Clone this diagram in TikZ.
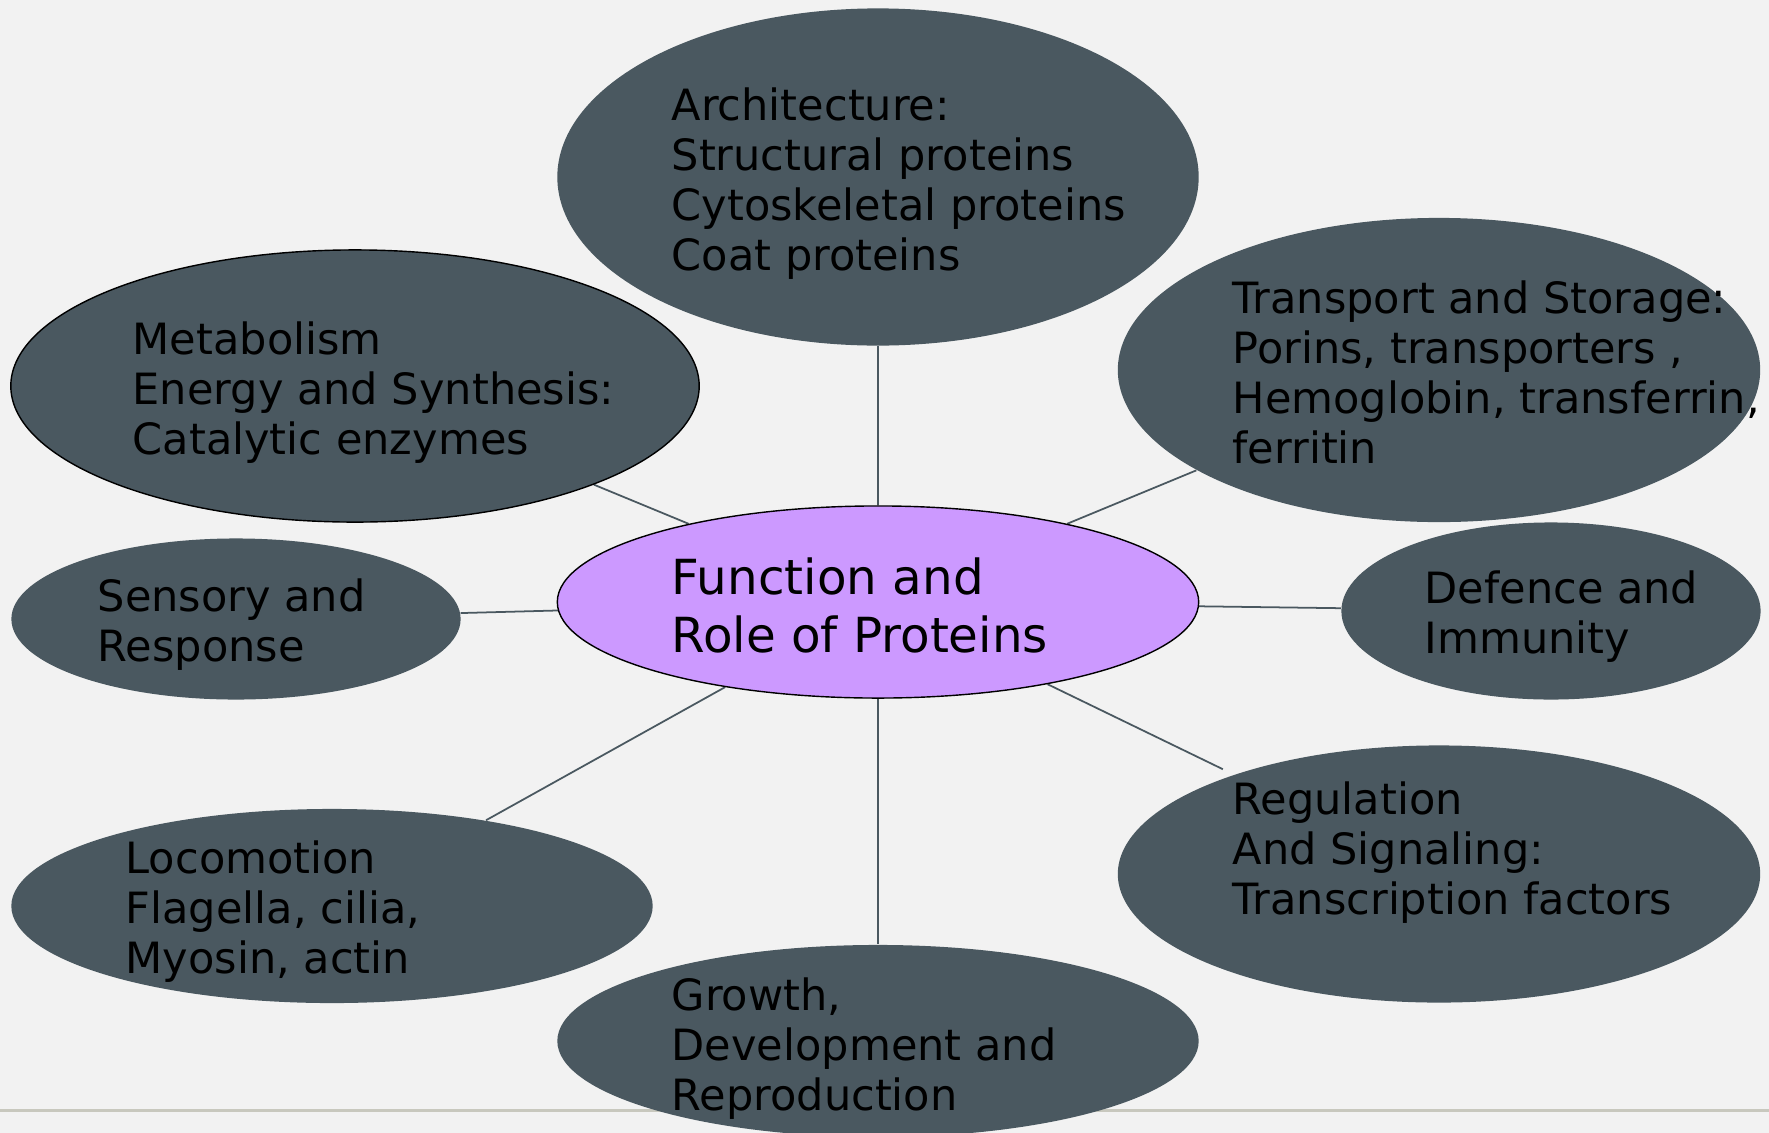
\documentclass[tikz,border=0pt]{standalone}
\usepackage{fontspec}
\setmainfont{DejaVu Sans}
\usetikzlibrary{shapes.geometric}
\pgfdeclarelayer{bg}
\pgfsetlayers{bg,main}
\definecolor{bgc}{HTML}{F2F2F2}
\definecolor{slate}{HTML}{4A5860}
\definecolor{lilac}{HTML}{CC99FF}
\definecolor{rule}{HTML}{C8C8BE}
\begin{document}
\begin{tikzpicture}[x=0.01cm,y=-0.01cm,
  bubble/.style={ellipse, fill=slate, inner sep=0pt, draw=none},
  bordered/.style={draw=black, line width=0.4pt},
  txt/.style={anchor=north west, inner sep=0pt, align=left, text=black,
    font=\fontsize{12.25}{14.2}\selectfont},
  bigtxt/.style={anchor=north west, inner sep=0pt, align=left, text=black,
    font=\fontsize{13.75}{16.5}\selectfont},
  link/.style={draw=slate, line width=0.5pt}]
\useasboundingbox (0,0) rectangle (1769,1133);
\begin{pgfonlayer}{bg}
\fill[bgc] (0,0) rectangle (1769,1133);
\fill[rule] (0,1108.5) rectangle (1769,1111.5);
\end{pgfonlayer}

\node[bubble, minimum width=6.41cm, minimum height=3.37cm] (arch) at (878,177) {};
\node[bubble, bordered, minimum width=6.88cm, minimum height=2.72cm] (metab) at (355,386) {};
\node[bubble, minimum width=6.42cm, minimum height=3.04cm] (trans) at (1439,370) {};
\node[bubble, minimum width=4.49cm, minimum height=1.61cm] (sens) at (236,619) {};
\node[ellipse, fill=lilac, bordered, inner sep=0pt, minimum width=6.41cm, minimum height=1.92cm] (center) at (878,602) {};
\node[bubble, minimum width=4.19cm, minimum height=1.77cm] (def) at (1551,611) {};
\node[bubble, minimum width=6.41cm, minimum height=1.94cm] (loco) at (332,906) {};
\node[bubble, minimum width=6.42cm, minimum height=2.57cm] (reg) at (1439,874) {};
\node[bubble, minimum width=6.41cm, minimum height=1.92cm] (grow) at (878,1041) {};

\begin{pgfonlayer}{bg}
\draw[link] (center) -- (arch);
\draw[link] (center) -- (metab);
\draw[link] (center) -- (trans);
\draw[link] (center) -- (sens);
\draw[link] (center) -- (def);
\draw[link] (center) -- (loco);
\draw[link, shorten >=0.12cm] (center) -- (reg);
\draw[link] (center) -- (grow);
\end{pgfonlayer}

\node[txt] (tarch) at (671,87) {Architecture:\\Structural proteins\\Cytoskeletal proteins\\Coat proteins};
\node[txt] (tmetab) at (132,321) {Metabolism\\Energy and Synthesis:\\Catalytic enzymes};
\node[txt] (ttrans) at (1232,280) {Transport and Storage:\\Porins, transporters ,\\Hemoglobin, transferrin,\\ferritin};
\node[txt] (tsens) at (97,578) {Sensory and\\Response};
\node[bigtxt] (tcenter) at (671,557) {Function and\\Role of Proteins};
\node[txt] (tdef) at (1424,570) {Defence and\\Immunity};
\node[txt] (tloco) at (125,840) {Locomotion\\Flagella, cilia,\\Myosin, actin};
\node[txt] (treg) at (1232,781) {Regulation\\And Signaling:\\Transcription factors};
\node[txt] (tgrow) at (671,977) {Growth,\\Development and\\Reproduction};
\end{tikzpicture}
\end{document}
